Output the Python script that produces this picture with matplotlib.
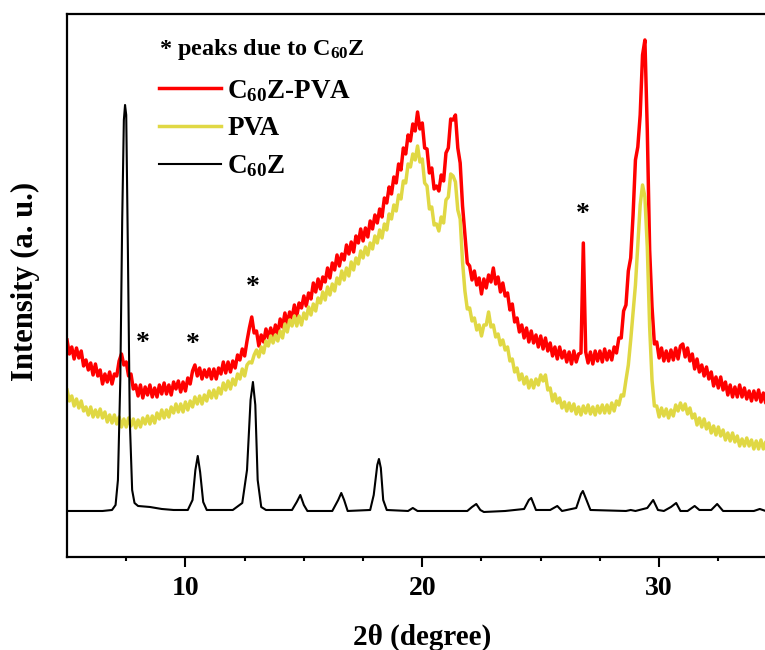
import numpy as np
import matplotlib
matplotlib.use("Agg")
import matplotlib.pyplot as plt

# XRD patterns, intensity in arbitrary units
two_theta = np.round(np.arange(5.0, 35.01, 0.1), 2)

c60z_pva = [
    217, 203, 210, 198, 209, 199, 206, 191, 197, 187,
    194, 182, 193, 181, 187, 173, 183, 175, 185, 173,
    183, 181, 196, 203, 192, 195, 181, 183, 168, 172,
    161, 172, 159, 170, 162, 172, 160, 169, 160, 172,
    163, 174, 163, 172, 162, 175, 168, 176, 165, 175,
    166, 179, 173, 186, 192, 181, 189, 178, 187, 180,
    188, 178, 188, 178, 189, 183, 195, 184, 195, 185,
    196, 189, 202, 197, 208, 201, 216, 229, 240, 224,
    226, 211, 222, 215, 228, 219, 229, 220, 232, 223,
    238, 230, 244, 233, 245, 239, 252, 241, 254, 249,
    261, 251, 264, 258, 274, 265, 278, 268, 280, 275,
    289, 279, 294, 287, 302, 291, 303, 297, 312, 303,
    315, 305, 321, 314, 328, 316, 329, 320, 336, 328,
    342, 334, 348, 340, 359, 354, 370, 363, 380, 374,
    393, 387, 409, 403, 422, 416, 433, 426, 445, 428,
    434, 409, 408, 384, 389, 368, 371, 366, 382, 376,
    404, 409, 438, 437, 442, 409, 394, 351, 322, 294,
    291, 277, 286, 272, 279, 263, 278, 269, 282, 275,
    289, 273, 280, 265, 274, 261, 264, 247, 253, 235,
    239, 225, 232, 219, 229, 215, 226, 214, 222, 210,
    221, 208, 219, 206, 214, 201, 210, 198, 210, 199,
    206, 195, 205, 193, 206, 195, 203, 204, 314, 205,
    194, 205, 193, 206, 196, 206, 195, 208, 197, 206,
    197, 210, 204, 219, 219, 246, 252, 286, 299, 342,
    397, 410, 442, 502, 517, 427, 307, 250, 213, 215,
    199, 209, 196, 206, 196, 207, 197, 209, 198, 211,
    213, 200, 209, 196, 203, 188, 198, 185, 192, 181,
    190, 178, 185, 171, 180, 169, 180, 167, 175, 162,
    172, 160, 170, 160, 172, 160, 169, 158, 166, 156,
    166, 157, 167, 155, 164, 154, 165, 156, 165, 154,
    162,
]

pva = [
    167, 156, 161, 151, 158, 149, 156, 146, 150, 142,
    150, 140, 147, 140, 148, 139, 145, 135, 142, 134,
    142, 133, 140, 130, 138, 130, 139, 131, 138, 129,
    137, 130, 139, 133, 141, 133, 141, 134, 144, 138,
    147, 139, 147, 140, 150, 144, 153, 145, 153, 145,
    155, 147, 156, 150, 160, 153, 161, 153, 162, 156,
    166, 159, 167, 159, 169, 163, 174, 167, 176, 168,
    178, 172, 183, 178, 188, 181, 192, 195, 194, 202,
    207, 200, 210, 204, 216, 211, 221, 214, 222, 216,
    226, 219, 233, 225, 237, 231, 241, 231, 241, 232,
    244, 238, 250, 242, 253, 246, 259, 254, 265, 257,
    270, 262, 273, 266, 279, 273, 286, 277, 289, 281,
    295, 287, 299, 293, 306, 299, 310, 302, 314, 308,
    321, 314, 327, 319, 333, 327, 343, 338, 352, 346,
    362, 358, 376, 374, 393, 390, 403, 397, 411, 395,
    398, 374, 371, 348, 350, 332, 333, 326, 340, 334,
    357, 360, 383, 381, 375, 347, 338, 295, 266, 248,
    249, 236, 239, 227, 232, 221, 232, 232, 245, 230,
    232, 220, 223, 212, 217, 207, 210, 196, 198, 185,
    189, 177, 183, 173, 180, 169, 177, 169, 178, 172,
    182, 176, 182, 167, 169, 156, 163, 154, 159, 149,
    155, 146, 154, 146, 153, 143, 150, 142, 151, 144,
    152, 143, 150, 142, 151, 144, 152, 144, 152, 144,
    154, 146, 156, 152, 162, 161, 177, 192, 217, 245,
    272, 312, 352, 372, 360, 310, 230, 177, 151, 151,
    140, 149, 141, 148, 139, 147, 141, 152, 146, 154,
    147, 153, 143, 149, 139, 143, 132, 139, 130, 138,
    128, 134, 124, 131, 122, 130, 121, 127, 117, 124,
    116, 124, 115, 121, 111, 118, 111, 119, 111, 117,
    108, 116, 108, 117, 108, 115, 106, 113, 106, 115,
    107,
]

# C60Z reference pattern (vertices read at uneven spacing around the peaks)
c60z_x = [5.0, 6.5, 6.9, 7.05, 7.15, 7.25, 7.33, 7.4, 7.45, 7.5, 7.57, 7.65, 7.75,
          7.85, 8.0, 8.5, 9.0, 9.5, 10.1, 10.3, 10.42, 10.52, 10.62, 10.75, 10.9,
          12.0, 12.4, 12.6, 12.75, 12.85, 12.95, 13.05, 13.2, 13.4, 14.5, 14.7,
          14.85, 15.0, 15.15, 16.2, 16.45, 16.58, 16.7, 16.85, 17.8, 17.95, 18.1,
          18.17, 18.25, 18.35, 18.5, 19.4, 19.6, 19.8, 21.9, 22.1, 22.28, 22.45,
          22.6, 23.5, 24.3, 24.5, 24.6, 24.8, 25.4, 25.7, 25.9, 26.5, 26.7, 26.78,
          26.9, 27.1, 28.6, 28.8, 29.0, 29.5, 29.75, 29.95, 30.2, 30.5, 30.72,
          30.9, 31.2, 31.5, 31.7, 32.2, 32.45, 32.7, 33.5, 34.0, 34.25, 34.5, 35.0]
c60z_y = [46, 46, 47, 52, 77, 177, 337, 437, 452, 442, 307, 137, 67,
          54, 51, 50, 48, 47, 47, 57, 87, 101, 85, 55, 47,
          47, 54, 87, 157, 175, 152, 77, 50, 47, 47, 55,
          62, 52, 46, 46, 57, 64, 57, 46, 47, 62, 92,
          98, 89, 57, 47, 46, 49, 46, 46, 50, 53, 47,
          45, 46, 48, 57, 59, 47, 47, 51, 46, 49, 63, 66,
          59, 47, 46, 47, 46, 49, 57, 47, 46, 50, 54,
          46, 46, 51, 47, 47, 53, 46, 46, 46, 48, 46, 46]

series_labels = ["C$_{60}$Z-PVA", "PVA", "C$_{60}$Z"]
star_x = [8.22, 10.32, 12.85, 26.78]
star_y = [213, 212, 269, 342]

plt.rcParams["font.family"] = "Liberation Serif"
plt.rcParams["font.weight"] = "bold"
plt.rcParams["mathtext.fontset"] = "custom"
plt.rcParams["mathtext.rm"] = "Liberation Serif:bold"
plt.rcParams["mathtext.it"] = "Liberation Serif:bold"
plt.rcParams["mathtext.bf"] = "Liberation Serif:bold"

fig = plt.figure(figsize=(7.65, 6.5), dpi=100)
# right edge of the axes sits past the figure edge, like the cropped original
ax = fig.add_axes([0.0876, 0.1431, 0.9288, 0.8354])

ax.plot(two_theta, c60z_pva, color="#ff0000", lw=2.5, label=series_labels[0])
ax.plot(two_theta, pva, color="#e0d844", lw=2.5, label=series_labels[1])
ax.plot(c60z_x, c60z_y, color="black", lw=1.5, label=series_labels[2])

for sx, sy in zip(star_x, star_y):
    ax.text(sx, sy, "*", fontsize=20, ha="center", va="center")

ax.set_xlim(5, 35)
ax.set_ylim(0, 543)
ax.set_xticks([10, 20, 30])
ax.set_xticks([7.5, 12.5, 15, 17.5, 22.5, 25, 27.5, 32.5], minor=True)
ax.set_yticks([])
ax.tick_params(axis="x", which="major", direction="out", length=7, width=1.5,
               labelsize=20, pad=7)
ax.tick_params(axis="x", which="minor", direction="out", length=3, width=1.5)
for sp in ax.spines.values():
    sp.set_linewidth(1.6)

ax.set_xlabel("2θ (degree)", fontsize=21, fontweight="bold", labelpad=16)
ax.set_ylabel("Intensity (a. u.)", fontsize=22, fontweight="bold")
ax.yaxis.set_label_coords(-0.038, 0.508)

ax.text(0.1295, 0.935, "* peaks due to C$_{60}$Z", transform=ax.transAxes,
        fontsize=17.5, ha="left", va="center")
ax.legend(loc="upper left", bbox_to_anchor=(0.1295, 0.882), frameon=False,
          fontsize=19.5, handlelength=2.3, handletextpad=0.22, labelspacing=0.45,
          borderpad=0, borderaxespad=0)

fig.savefig("out.png", dpi=100)
